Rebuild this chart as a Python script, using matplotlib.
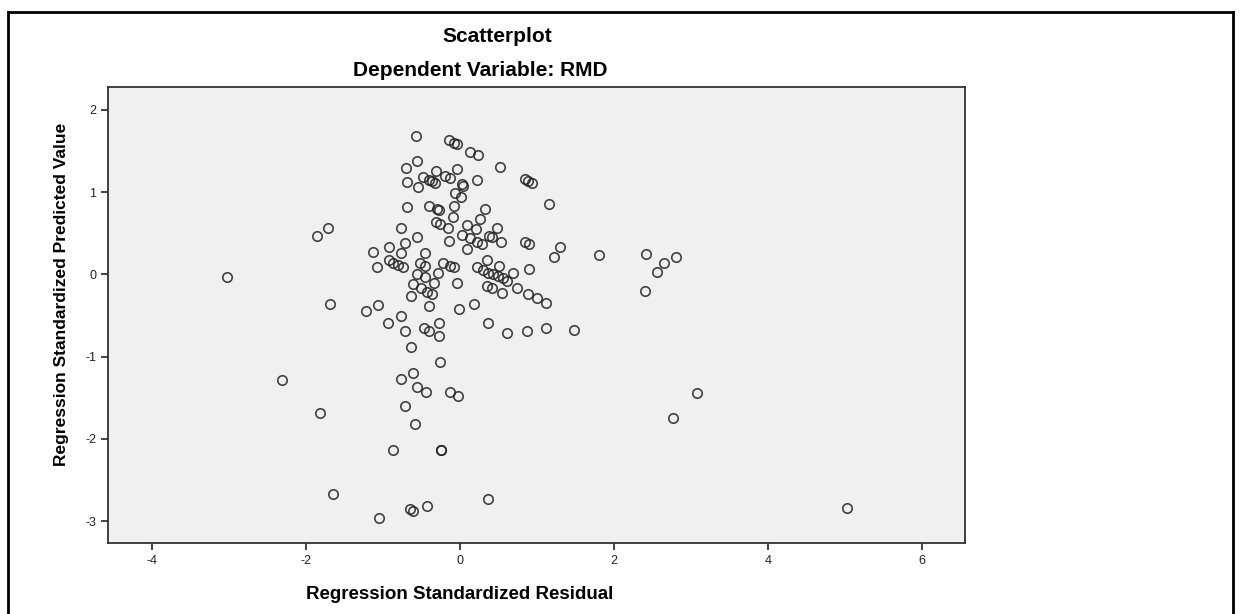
import matplotlib
matplotlib.use("Agg")
import matplotlib.pyplot as plt
from matplotlib.lines import Line2D

# Regression standardized residual (x) and predicted value (y)
residual = [
    -0.571, -0.143, -0.078, -0.039, 0.130, 0.234, -0.558, -0.701, 0.519, -0.312,
    -0.039, -0.195, -0.130, -0.481, -0.403, -0.364, -0.325, -0.688, -0.545, 0.026,
    0.039, 0.221, 0.844, 0.883, 0.935, -0.065, 0.013, 1.156, -0.688, -0.403,
    -0.299, -0.273, -0.078, 0.325, -0.091, 0.260, -0.312, -0.260, -0.156, -0.766,
    -1.714, 0.091, 0.208, 0.481, -0.558, 0.026, 0.130, 0.221, 0.286, 0.377,
    0.416, -0.143, 0.532, 0.844, 0.896, 1.299, 1.221, -1.130, -0.922, -0.714,
    -0.766, -0.455, 0.091, -1.078, -0.922, -0.870, -0.805, -0.740, -0.519, -0.455,
    -0.221, -0.130, -0.078, 0.221, 0.299, 0.364, 0.429, 0.494, 0.558, 0.610,
    0.351, 0.506, 0.688, 0.896, -0.558, -0.455, -0.286, -0.338, -0.039, -0.610,
    -0.506, -0.429, -0.364, -0.636, -0.403, 0.351, 0.416, 0.545, 0.740, 0.883,
    1.000, 1.117, 0.182, -0.013, -1.065, -1.221, -1.688, -0.766, -0.935, -0.714,
    -0.468, -0.403, -0.273, -0.273, -0.636, 0.364, 0.610, 0.870, 1.117, 1.481,
    -0.260, -0.610, -0.766, -0.558, -0.442, -0.130, -0.026, -0.714, -0.584, -0.870,
    -0.247, -0.240, -1.649, -0.649, -0.610, -0.429, -1.052, 0.364, -1.857, -3.026,
    -2.312, -1.818, 1.805, 2.416, 2.805, 2.649, 2.558, 2.403, 3.078, 2.766,
    5.026,
]
predicted = [
    1.680, 1.632, 1.595, 1.583, 1.486, 1.450, 1.377, 1.292, 1.304, 1.255,
    1.279, 1.194, 1.170, 1.182, 1.146, 1.134, 1.109, 1.121, 1.061, 1.097,
    1.073, 1.146, 1.158, 1.134, 1.109, 0.988, 0.939, 0.854, 0.818, 0.830,
    0.793, 0.781, 0.830, 0.793, 0.696, 0.672, 0.635, 0.611, 0.563, 0.563,
    0.563, 0.599, 0.550, 0.563, 0.453, 0.478, 0.441, 0.392, 0.368, 0.465,
    0.453, 0.405, 0.392, 0.392, 0.368, 0.332, 0.210, 0.271, 0.332, 0.380,
    0.259, 0.259, 0.307, 0.089, 0.174, 0.137, 0.113, 0.089, 0.137, 0.101,
    0.137, 0.101, 0.089, 0.089, 0.052, 0.016, 0.004, -0.021, -0.045, -0.081,
    0.174, 0.101, 0.016, 0.064, 0.004, -0.033, 0.016, -0.106, -0.106, -0.118,
    -0.166, -0.215, -0.239, -0.264, -0.385, -0.142, -0.166, -0.227, -0.166, -0.239,
    -0.288, -0.349, -0.361, -0.422, -0.373, -0.446, -0.361, -0.507, -0.592, -0.689,
    -0.652, -0.689, -0.592, -0.750, -0.883, -0.592, -0.713, -0.689, -0.652, -0.677,
    -1.066, -1.199, -1.272, -1.369, -1.430, -1.430, -1.479, -1.600, -1.819, -2.135,
    -2.135, -2.130, -2.670, -2.852, -2.876, -2.815, -2.961, -2.730, 0.465, -0.033,
    -1.284, -1.685, 0.235, 0.247, 0.210, 0.137, 0.028, -0.203, -1.442, -1.746,
    -2.840,
]

x_ticks = [-4, -2, 0, 2, 4, 6]
y_ticks = [-3, -2, -1, 0, 1, 2]

plt.rcParams['font.family'] = ['Liberation Sans', 'DejaVu Sans']
plt.rcParams['axes.unicode_minus'] = False

fig = plt.figure(figsize=(12.41, 6.14), dpi=100)
fig.patch.set_facecolor('white')
ax = fig.add_axes([0.0870, 0.1156, 0.6906, 0.7427])
ax.set_facecolor('#f0f0f0')

ax.plot(residual, predicted, linestyle='none', marker='o', markersize=6.8,
        markerfacecolor='none', markeredgecolor='#222222', markeredgewidth=1.2,
        alpha=0.85)

ax.set_xlim(-4.57, 6.56)
ax.set_ylim(-3.265, 2.276)
ax.set_xticks(x_ticks)
ax.set_yticks(y_ticks)
ax.tick_params(axis='both', direction='out', length=5, width=1.2,
               labelsize=9, colors='#222222', top=False, right=False)
for s in ax.spines.values():
    s.set_color('#333333')
    s.set_linewidth(1.3)

ax.set_xlabel('Regression Standardized Residual', fontsize=13.5, fontweight='bold')
ax.xaxis.set_label_coords(0.41, -0.095)
ax.set_ylabel('Regression Standardized Predicted Value', fontsize=12.5,
              fontweight='bold')
ax.yaxis.set_label_coords(-0.045, 0.545)

fig.text(497 / 1241, 1 - 37 / 614, 'Scatterplot', ha='center', va='center',
         fontsize=15, fontweight='bold')
fig.text(480 / 1241, 1 - 71 / 614, 'Dependent Variable: RMD', ha='center',
         va='center', fontsize=15, fontweight='bold')

# outer frame
fig.add_artist(Line2D([8 / 1241, 8 / 1241], [0, 1 - 12 / 614], transform=fig.transFigure,
                      color='black', lw=2))
fig.add_artist(Line2D([8 / 1241, 1233 / 1241], [1 - 12 / 614, 1 - 12 / 614],
                      transform=fig.transFigure, color='black', lw=2))
fig.add_artist(Line2D([1233 / 1241, 1233 / 1241], [0, 1 - 12 / 614],
                      transform=fig.transFigure, color='black', lw=2))

fig.savefig('out.png', dpi=100)
